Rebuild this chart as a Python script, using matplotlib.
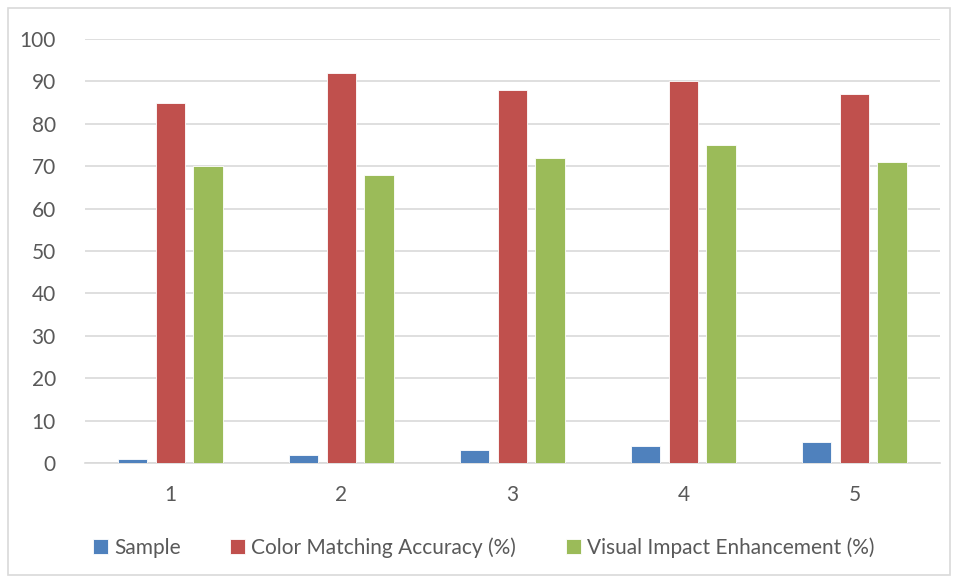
import numpy as np
import matplotlib.pyplot as plt
from matplotlib.patches import Rectangle

plt.rcParams['font.family'] = ['Lato', 'DejaVu Sans']

categories = ['1', '2', '3', '4', '5']
sample = [1, 2, 3, 4, 5]
color_acc = [85, 92, 88, 90, 87]
visual_imp = [70, 68, 72, 75, 71]

series = [
    ('Sample', sample, '#4F81BD'),
    ('Color Matching Accuracy (%)', color_acc, '#C0504D'),
    ('Visual Impact Enhancement (%)', visual_imp, '#9BBB59'),
]

fig = plt.figure(figsize=(9.58, 5.81), dpi=100)
ax = fig.add_axes([0.0887, 0.203, 0.8925, 0.730])

# chart border
fig.patches.append(Rectangle((8 / 958, 6 / 581), 942 / 958, 567 / 581,
                             transform=fig.transFigure, fill=False,
                             edgecolor='#D9D9D9', linewidth=1.2))

x = np.arange(len(categories))
w = 0.175
step = 0.222
for i, (name, vals, col) in enumerate(series):
    ax.bar(x + (i - 1) * step, vals, w, color=col, label=name,
           edgecolor='white', linewidth=0.6, zorder=3)

ax.set_xlim(-0.5, len(categories) - 0.5)
ax.set_ylim(0, 100)
ax.set_yticks(range(0, 101, 10))
ax.set_xticks(x)
ax.set_xticklabels(categories)
ax.grid(axis='y', color='#D9D9D9', linewidth=1.2, zorder=0)
for s in ['top', 'right', 'left']:
    ax.spines[s].set_visible(False)
ax.spines['bottom'].set_color('#D9D9D9')
ax.spines['bottom'].set_linewidth(1.2)
ax.tick_params(length=0, labelsize=15, colors='#595959')
ax.tick_params(axis='y', pad=21)
ax.tick_params(axis='x', pad=16)

fig.legend(loc='center', bbox_to_anchor=(0.505, 0.058), ncol=3, frameon=False,
           fontsize=15, labelcolor='#595959', handlelength=0.7,
           handleheight=0.7, handletextpad=0.3, columnspacing=2.4)

fig.savefig('out.png', dpi=100)
